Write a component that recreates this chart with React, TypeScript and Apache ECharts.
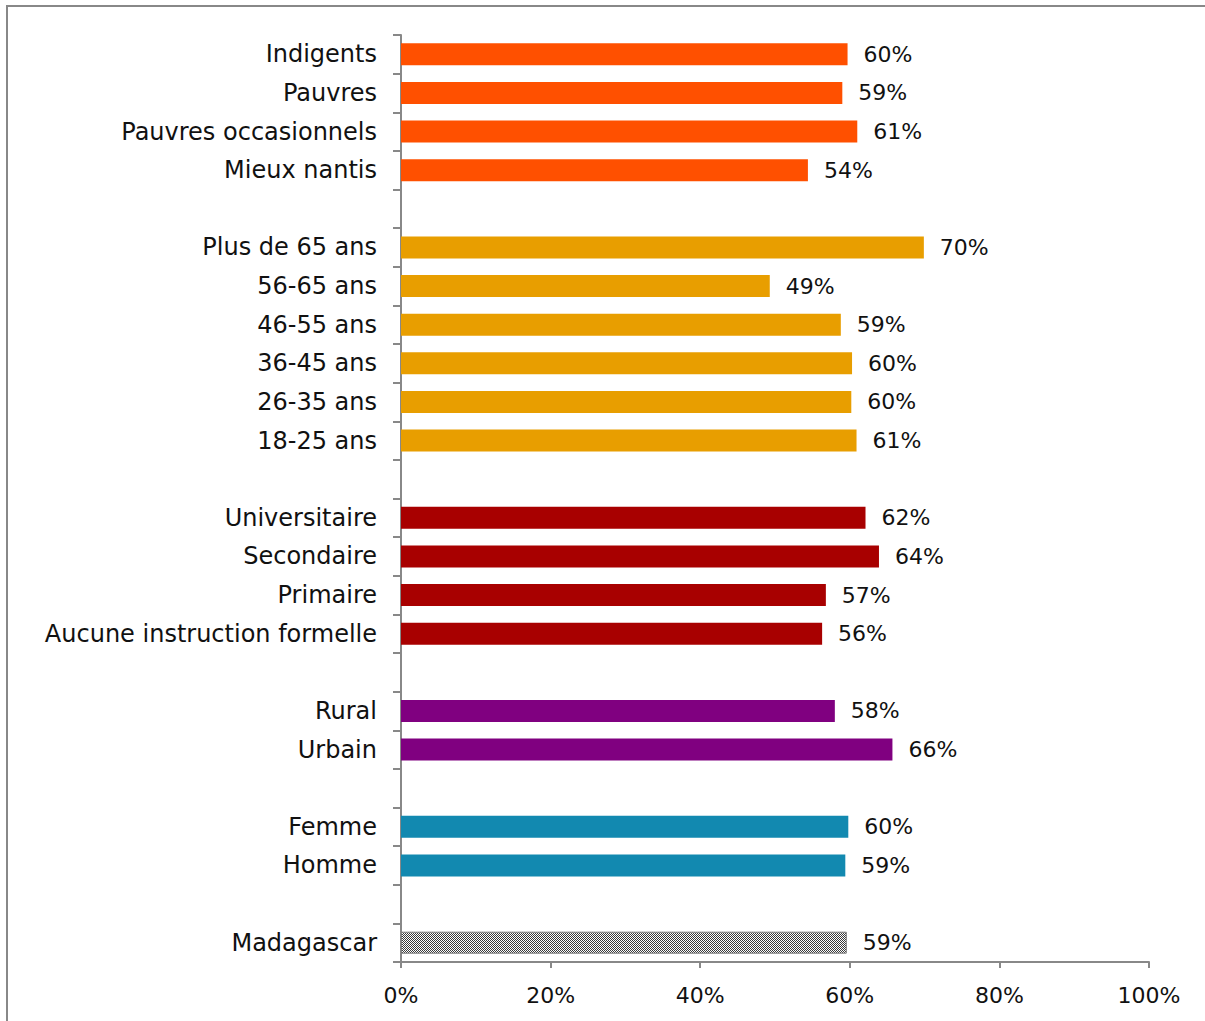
import React, { useEffect, useRef } from "react";
import * as echarts from "echarts";

const categories = [
  "Indigents", "Pauvres", "Pauvres occasionnels", "Mieux nantis", "",
  "Plus de 65 ans", "56-65 ans", "46-55 ans", "36-45 ans", "26-35 ans", "18-25 ans", "",
  "Universitaire", "Secondaire", "Primaire", "Aucune instruction formelle", "",
  "Rural", "Urbain", "",
  "Femme", "Homme", "",
  "Madagascar",
];
const values: (number | null)[] = [
  60, 59, 61, 54, null,
  70, 49, 59, 60, 60, 61, null,
  62, 64, 57, 56, null,
  58, 66, null,
  60, 59, null,
  59,
];
// bar lengths (fractional percent)
const barValues: (number | null)[] = [
  59.7, 59.0, 61.0, 54.4, null,
  69.9, 49.3, 58.8, 60.3, 60.2, 60.9, null,
  62.1, 63.9, 56.8, 56.3, null,
  58.0, 65.7, null,
  59.8, 59.4, null,
  59.6,
];
const groupColors = [
  "#FF5000", "#FF5000", "#FF5000", "#FF5000", null,
  "#E89E00", "#E89E00", "#E89E00", "#E89E00", "#E89E00", "#E89E00", null,
  "#A80000", "#A80000", "#A80000", "#A80000", null,
  "#800080", "#800080", null,
  "#1289B0", "#1289B0", null,
  "pattern",
];
const xTicks = [0, 20, 40, 60, 80, 100];

function makePattern() {
  const c = document.createElement("canvas");
  c.width = 2;
  c.height = 2;
  const ctx = c.getContext("2d")!;
  ctx.fillStyle = "#ffffff";
  ctx.fillRect(0, 0, 2, 2);
  ctx.fillStyle = "#3a3a3a";
  ctx.fillRect(0, 0, 1, 1);
  ctx.fillRect(1, 1, 1, 1);
  return c.toDataURL();
}

export default function App() {
  const ref = useRef<HTMLDivElement>(null);
  useEffect(() => {
    if (!ref.current) return;
    const chart = echarts.init(ref.current, null, { renderer: "svg" });
    const font = "'Century Gothic', 'DejaVu Sans', sans-serif";
    const patternSrc = makePattern();
    const data = barValues.map((v, i) => {
      if (v === null) return { value: null };
      const col = groupColors[i];
      if (col === "pattern") {
        return {
          value: v,
          itemStyle: {
            color: { image: patternSrc, repeat: "repeat" } as any,
            borderColor: "#7f7f7f",
            borderWidth: 1,
          },
          label: { formatter: values[i] + "%" },
        };
      }
      return { value: v, itemStyle: { color: col }, label: { formatter: values[i] + "%" } };
    });
    chart.setOption({
      animation: false,
      textStyle: { fontFamily: font },
      grid: { left: 401, right: 56, top: 35, bottom: 59, containLabel: false },
      graphic: [
        {
          type: "rect",
          shape: { x: 7, y: 6, width: 1210, height: 1030 },
          style: { fill: "none", stroke: "#888888", lineWidth: 2 },
          silent: true,
        },
      ],
      xAxis: {
        type: "value",
        min: xTicks[0],
        max: xTicks[xTicks.length - 1],
        interval: 20,
        axisLine: { show: true, lineStyle: { color: "#888888", width: 2 } },
        axisTick: { show: true, length: 6, lineStyle: { color: "#888888", width: 2 } },
        splitLine: { show: false },
        axisLabel: {
          formatter: "{value}%",
          color: "#111",
          fontSize: 22,
          fontFamily: font,
          margin: 22,
        },
      },
      yAxis: {
        type: "category",
        inverse: true,
        data: categories,
        axisLine: { show: true, lineStyle: { color: "#888888", width: 2 } },
        axisTick: { show: true, length: 8, interval: 0, lineStyle: { color: "#888888", width: 2 } },
        axisLabel: {
          interval: 0,
          color: "#111",
          fontSize: 24,
          fontFamily: font,
          margin: 24,
          padding: [3, 0, 0, 0],
        },
      },
      series: [
        {
          type: "bar",
          data,
          barCategoryGap: "43%",
          label: {
            show: true,
            position: "right",
            distance: 16,
            color: "#111",
            fontSize: 22,
            fontFamily: font,
            padding: [4, 0, 0, 0],
          },
        },
      ],
    });
    return () => chart.dispose();
  }, []);
  return (
    <div
      ref={ref}
      style={{ position: "fixed", left: 0, top: 0, width: 1205, height: 1021, background: "#fff" }}
    />
  );
}
